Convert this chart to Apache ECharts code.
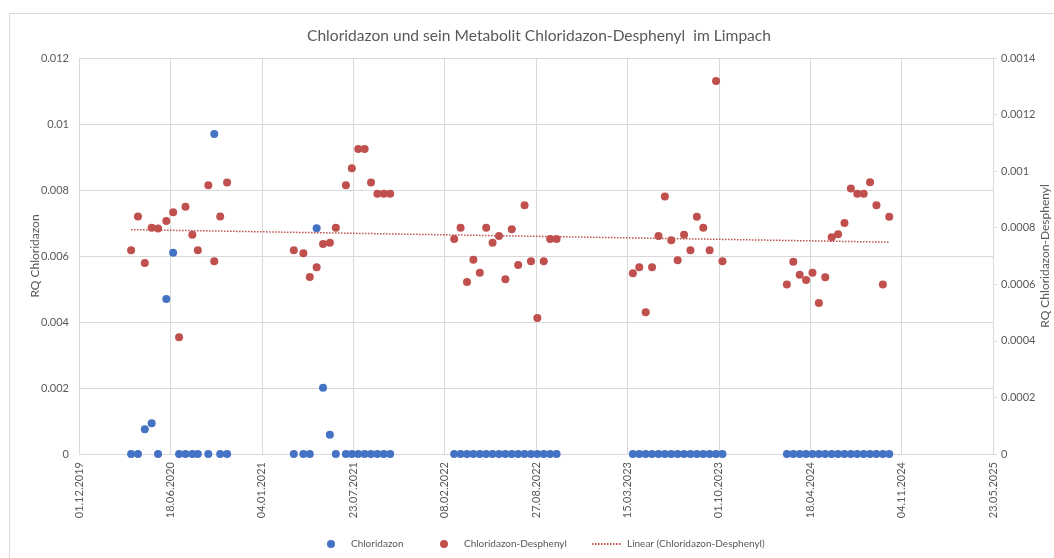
<!DOCTYPE html>
<html>
<head>
<meta charset="utf-8">
<script src="https://cdn.jsdelivr.net/npm/echarts@6/dist/echarts.min.js"></script>
<style>html,body{margin:0;padding:0;background:#fff}#c{width:1054px;height:558px}</style>
</head>
<body>
<div id="c"></div>
<script>
// Sampling dates (shared by both series)
var dates = [
  '2020-03-24','2020-04-08','2020-04-23','2020-05-08','2020-05-22','2020-06-09','2020-06-24','2020-07-07','2020-07-21','2020-08-05','2020-08-17','2020-09-09','2020-09-22','2020-10-05','2020-10-20',
  '2021-03-15','2021-04-05','2021-04-19','2021-05-04','2021-05-18','2021-06-02','2021-06-15','2021-07-07','2021-07-20','2021-08-03','2021-08-17','2021-08-31','2021-09-14','2021-09-28','2021-10-12',
  '2022-03-01','2022-03-15','2022-03-29','2022-04-12','2022-04-26','2022-05-10','2022-05-24','2022-06-07','2022-06-21','2022-07-05','2022-07-19','2022-08-02','2022-08-16','2022-08-30','2022-09-13','2022-09-27','2022-10-11',
  '2023-03-27','2023-04-10','2023-04-24','2023-05-08','2023-05-22','2023-06-05','2023-06-19','2023-07-03','2023-07-17','2023-07-31','2023-08-14','2023-08-28','2023-09-11','2023-09-25','2023-10-09',
  '2024-02-27','2024-03-12','2024-03-26','2024-04-09','2024-04-23','2024-05-07','2024-05-21','2024-06-04','2024-06-18','2024-07-02','2024-07-16','2024-07-30','2024-08-13','2024-08-27','2024-09-10','2024-09-24','2024-10-08'
];
// RQ Chloridazon (left axis)
var chloridazon = [
  0,0,0.00075,0.00093,0,0.0047,0.0061,0,0,0,0,0,0.0097,0,0,
  0,0,0,0.00684,0.00201,0.00058,0,0,0,0,0,0,0,0,0,
  0,0,0,0,0,0,0,0,0,0,0,0,0,0,0,0,0,
  0,0,0,0,0,0,0,0,0,0,0,0,0,0,0,
  0,0,0,0,0,0,0,0,0,0,0,0,0,0,0,0,0
];
// RQ Chloridazon-Desphenyl (right axis)
var desphenyl = [
  0.00072,0.00084,0.000675,0.0008,0.000797,0.000824,0.000855,0.000413,0.000874,0.000775,0.00072,0.00095,0.000681,0.00084,0.00096,
  0.00072,0.00071,0.000626,0.00066,0.000742,0.000747,0.0008,0.00095,0.00101,0.001078,0.001078,0.00096,0.00092,0.00092,0.00092,
  0.00076,0.0008,0.000608,0.000687,0.000641,0.0008,0.000747,0.000771,0.000618,0.000795,0.000668,0.000879,0.000681,0.000481,0.000681,0.00076,0.00076,
  0.000639,0.00066,0.000501,0.00066,0.000771,0.00091,0.000756,0.000685,0.000775,0.00072,0.000839,0.0008,0.00072,0.001319,0.000681,
  0.000599,0.00068,0.000634,0.000615,0.000641,0.000534,0.000625,0.000766,0.000777,0.000817,0.000939,0.00092,0.00092,0.000961,0.000879,0.000599,0.000839
];
var axisStart = '2019-12-01';
var dayStep = 200;
var dayCount = 2000;
var seriesNames = ['Chloridazon', 'Chloridazon-Desphenyl', 'Linear (Chloridazon-Desphenyl)'];
var titleText = 'Chloridazon und sein Metabolit Chloridazon-Desphenyl  im Limpach';

var DAY = 86400000;
var base = Date.parse(axisStart + 'T00:00:00Z');
function toDay(s){ return Math.round((Date.parse(s + 'T00:00:00Z') - base) / DAY); }
function fmtDay(d){
  var t = new Date(base + d * DAY);
  var dd = ('0' + t.getUTCDate()).slice(-2), mm = ('0' + (t.getUTCMonth() + 1)).slice(-2);
  return dd + '.' + mm + '.' + t.getUTCFullYear();
}
var xs = dates.map(toDay);
var chlData = xs.map(function(x, i){ return [x, chloridazon[i]]; });
var desData = xs.map(function(x, i){ return [x, desphenyl[i]]; });

// linear trend (least squares) of Desphenyl
var n = xs.length, sx = 0, sy = 0, sxx = 0, sxy = 0;
for (var i = 0; i < n; i++) { sx += xs[i]; sy += desphenyl[i]; sxx += xs[i]*xs[i]; sxy += xs[i]*desphenyl[i]; }
var slope = (n*sxy - sx*sy) / (n*sxx - sx*sx);
var icpt = (sy - slope*sx) / n;
var x0 = Math.min.apply(null, xs), x1 = Math.max.apply(null, xs);
var trend = [[x0, icpt + slope*x0], [x1, icpt + slope*x1]];

var txt = '#595959', grid = '#d9d9d9', ff = 'Lato, Open Sans, sans-serif';
function legendAt(left, item){
  return {bottom: 4, left: left, itemWidth: 30, itemHeight: 8,
    textStyle: {color: txt, fontSize: 10, fontFamily: ff}, data: [item]};
}
var chart = echarts.init(document.getElementById('c'), null, {renderer: 'canvas'});
chart.setOption({
  animation: false,
  textStyle: {fontFamily: ff},
  graphic: [{type: 'rect', shape: {x: 9.5, y: 13.5, width: 1100, height: 600}, style: {fill: 'none', stroke: grid, lineWidth: 1}, silent: true}],
  title: {text: titleText, left: 302, top: 23, textStyle: {color: txt, fontSize: 15.6, fontWeight: 'normal', fontFamily: ff}},
  grid: {left: 79, right: 61, top: 58, bottom: 104, outerBoundsMode: 'none', containLabel: false},
  legend: [
    legendAt(322, {name: seriesNames[0], icon: 'circle'}),
    legendAt(435, {name: seriesNames[1], icon: 'circle'}),
    legendAt(586, {name: seriesNames[2], itemStyle: {opacity: 0}})
  ],
  xAxis: {
    type: 'value', min: 0, max: dayCount, interval: dayStep,
    axisLine: {show: true, lineStyle: {color: grid}},
    axisTick: {show: false},
    splitLine: {show: true, lineStyle: {color: grid}},
    axisLabel: {rotate: 90, color: txt, fontSize: 11, margin: 8, formatter: function(v){ return fmtDay(v); }}
  },
  yAxis: [{
    type: 'value', min: 0, max: 0.012, interval: 0.002,
    name: 'RQ Chloridazon', nameLocation: 'middle', nameGap: 38, nameRotate: 90, nameMoveOverlap: false,
    nameTextStyle: {color: txt, fontSize: 12},
    axisLine: {show: true, lineStyle: {color: grid}},
    axisTick: {show: false},
    splitLine: {show: true, lineStyle: {color: grid}},
    axisLabel: {color: txt, fontSize: 11, margin: 10, formatter: function(v){ return String(+v.toFixed(4)); }}
  }, {
    type: 'value', min: 0, max: 0.0014, interval: 0.0002, position: 'right',
    name: 'RQ Chloridazon-Desphenyl', nameLocation: 'middle', nameGap: 46, nameRotate: 90, nameMoveOverlap: false,
    nameTextStyle: {color: txt, fontSize: 12},
    axisLine: {show: true, lineStyle: {color: grid}},
    axisTick: {show: true, length: 4, lineStyle: {color: grid}},
    splitLine: {show: false},
    axisLabel: {color: txt, fontSize: 11, margin: 8, formatter: function(v){ return String(+v.toFixed(5)); }}
  }],
  series: [{
    name: seriesNames[0], type: 'scatter', yAxisIndex: 0, data: chlData,
    symbolSize: 8, itemStyle: {color: '#4472C4', opacity: 1}
  }, {
    name: seriesNames[1], type: 'scatter', yAxisIndex: 1, data: desData,
    symbolSize: 8, itemStyle: {color: '#C0504D', opacity: 1}
  }, {
    name: seriesNames[2], type: 'line', yAxisIndex: 1, data: trend,
    symbol: 'none', lineStyle: {color: '#C0504D', width: 1.5, type: [1.5, 1.5]}, itemStyle: {color: '#C0504D'}
  }]
});
</script>
</body>
</html>
